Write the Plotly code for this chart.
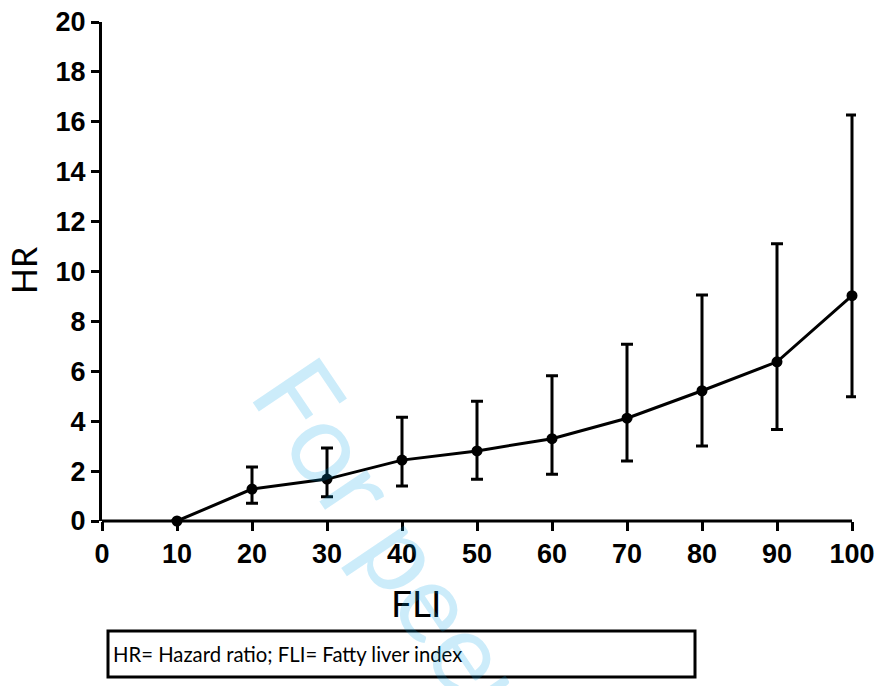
import plotly.graph_objects as go

# Data
fli = [10, 20, 30, 40, 50, 60, 70, 80, 90, 100]
hr = [0.0, 1.28, 1.68, 2.44, 2.81, 3.30, 4.12, 5.22, 6.38, 9.03]
hr_upper = [0.0, 2.16, 2.93, 4.16, 4.80, 5.82, 7.08, 9.06, 11.11, 16.27]
hr_lower = [0.0, 0.71, 0.97, 1.40, 1.67, 1.87, 2.40, 3.01, 3.67, 4.98]
x_ticks = [0, 10, 20, 30, 40, 50, 60, 70, 80, 90, 100]
y_ticks = [0, 2, 4, 6, 8, 10, 12, 14, 16, 18, 20]
footnote = "HR= Hazard ratio; FLI= Fatty liver index"
watermark = "For peer review"

W, H = 882, 686
L, R, T, B = 102, 26, 22, 165
PW, PH = W - L - R, H - T - B
X_MAX = PW / 7.5  # small extra room so the last error bar is not clipped


def px(x):
    return (x - L) / PW


def py(y):
    return (H - B - y) / PH


err_plus = [u - v for u, v in zip(hr_upper, hr)]
err_minus = [v - lo for v, lo in zip(hr, hr_lower)]

fig = go.Figure()
fig.add_trace(go.Scatter(
    x=fli, y=hr, mode="lines+markers",
    line=dict(color="black", width=3),
    marker=dict(color="black", size=11),
    error_y=dict(type="data", symmetric=False, array=err_plus, arrayminus=err_minus,
                 color="black", thickness=3, width=6),
    cliponaxis=False, showlegend=False,
))

tickfont = dict(family="Liberation Sans, Arial, sans-serif", size=27, color="black", weight="bold")
fig.update_xaxes(range=[0, X_MAX], tickvals=x_ticks, showline=False,
                 ticks="outside", ticklen=9, tickwidth=3, tickcolor="black", showgrid=False,
                 zeroline=False, tickfont=tickfont, automargin=False)
fig.update_yaxes(range=[0, 20], tickvals=y_ticks, showline=True, linewidth=3, linecolor="black",
                 ticks="outside", ticklen=8, tickwidth=3, tickcolor="black", showgrid=False,
                 zeroline=False, tickfont=tickfont, automargin=False)

annotations = [
    dict(text="FLI", x=px(416), y=py(602), xref="paper", yref="paper", showarrow=False,
         font=dict(family="Lato, Open Sans, sans-serif", size=37, color="black"),
         xanchor="center", yanchor="middle"),
    dict(text="HR", x=px(23), y=py(270), xref="paper", yref="paper", showarrow=False,
         font=dict(family="Lato, Open Sans, sans-serif", size=34, color="black"),
         textangle=-90, xanchor="center", yanchor="middle"),
    dict(text=footnote, x=px(111), y=py(654), xref="paper", yref="paper", showarrow=False,
         font=dict(family="Lato, Open Sans, sans-serif", size=20.3, color="black"),
         xanchor="left", yanchor="middle"),
    dict(text=watermark, x=px(497), y=py(686), xref="paper", yref="paper", showarrow=False,
         font=dict(family="Lato, Open Sans, sans-serif", size=112, color="rgba(0,160,230,0.2)"),
         textangle=56, xanchor="center", yanchor="middle"),
]

shapes = [
    # x-axis line from 0 to 100 (data coordinates)
    dict(type="line", xref="x", yref="paper", x0=x_ticks[0], x1=x_ticks[-1], y0=0, y1=0,
         line=dict(color="black", width=3)),
    dict(type="rect", xref="paper", yref="paper", x0=px(108), x1=px(695), y0=py(631), y1=py(677),
         line=dict(color="black", width=3), fillcolor="rgba(0,0,0,0)"),
]

fig.update_layout(
    width=W, height=H, margin=dict(l=L, r=R, t=T, b=B),
    paper_bgcolor="white", plot_bgcolor="white",
    annotations=annotations, shapes=shapes,
)

fig.write_html("out.html", config={"displayModeBar": False},
               post_script="document.body.style.margin='0px';")
